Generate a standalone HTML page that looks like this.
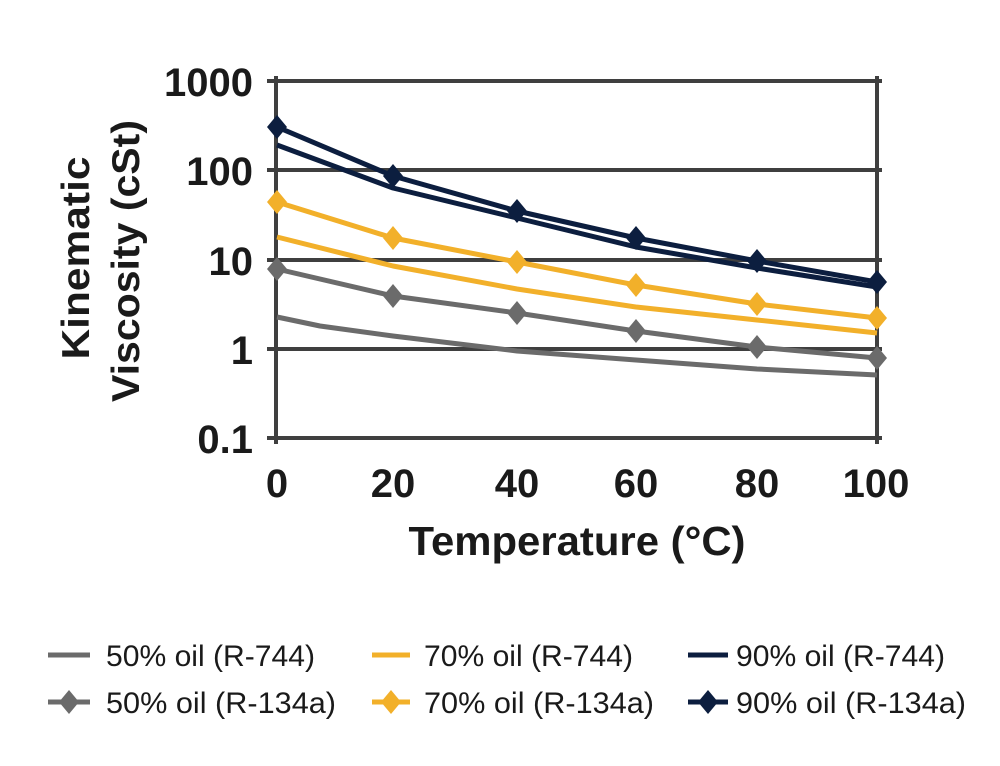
<!DOCTYPE html>
<html><head><meta charset="utf-8"><style>
html,body{margin:0;padding:0;background:#fff;}
svg{display:block;}
</style></head><body>
<svg width="1000" height="766" viewBox="0 0 1000 766" xmlns="http://www.w3.org/2000/svg" font-family="Liberation Sans, Arial, sans-serif">
<defs>
<path id="dm" d="M0,-12 L10,0 L0,12 L-10,0 Z"/>
</defs>
<g stroke="#3f3f3f" stroke-width="4">
<line x1="267" y1="81" x2="882" y2="81"/>
<line x1="267" y1="170" x2="882" y2="170"/>
<line x1="267" y1="260" x2="882" y2="260"/>
<line x1="267" y1="349" x2="882" y2="349"/>
<line x1="267" y1="438" x2="882" y2="438"/>
<line x1="276" y1="76" x2="276" y2="444"/>
<line x1="877" y1="76" x2="877" y2="444"/>
</g>
<g fill="none" stroke-width="5" stroke-linejoin="round">
<polyline stroke="#6b6b6b" points="277,317 320,326 393,336 517,351 636,360 757,369 877,375"/>
<polyline stroke="#6b6b6b" points="277,269 393,296 517,313 636,331 757,347 877,358"/>
<polyline stroke="#f2b02a" points="277,237 393,266 517,289 636,307 757,320 877,333"/>
<polyline stroke="#f2b02a" points="277,202 393,238 517,262 636,285 757,304 877,318"/>
<polyline stroke="#0c1e3f" points="277,145 393,188 517,218 636,247 757,268 877,287"/>
<polyline stroke="#0c1e3f" points="277,127 393,176 517,211 636,238 757,261 877,282"/>
</g>
<g fill="#6b6b6b">
<use href="#dm" x="277" y="269"/><use href="#dm" x="393" y="296"/><use href="#dm" x="517" y="313"/><use href="#dm" x="636" y="331"/><use href="#dm" x="757" y="347"/><use href="#dm" x="877" y="358"/>
</g>
<g fill="#f2b02a">
<use href="#dm" x="277" y="202"/><use href="#dm" x="393" y="238"/><use href="#dm" x="517" y="262"/><use href="#dm" x="636" y="285"/><use href="#dm" x="757" y="304"/><use href="#dm" x="877" y="318"/>
</g>
<g fill="#0c1e3f">
<use href="#dm" x="277" y="127"/><use href="#dm" x="393" y="176"/><use href="#dm" x="517" y="211"/><use href="#dm" x="636" y="238"/><use href="#dm" x="757" y="261"/><use href="#dm" x="877" y="282"/>
</g>
<g font-size="40" font-weight="bold" fill="#1a1a1a" text-anchor="end">
<text x="253" y="96">1000</text>
<text x="253" y="185">100</text>
<text x="253" y="275">10</text>
<text x="253" y="364">1</text>
<text x="253" y="453">0.1</text>
</g>
<g font-size="40" font-weight="bold" fill="#1a1a1a" text-anchor="middle">
<text x="277" y="497">0</text>
<text x="393" y="497">20</text>
<text x="517" y="497">40</text>
<text x="636" y="497">60</text>
<text x="757" y="497">80</text>
<text x="876" y="497">100</text>
</g>
<text x="577" y="555" font-size="41" font-weight="bold" fill="#1a1a1a" text-anchor="middle" textLength="337" lengthAdjust="spacingAndGlyphs">Temperature (°C)</text>
<g font-size="39" font-weight="bold" fill="#1a1a1a" text-anchor="middle">
<text transform="translate(89,258) rotate(-90)" textLength="203" lengthAdjust="spacingAndGlyphs">Kinematic</text>
<text transform="translate(139,261) rotate(-90)" textLength="282" lengthAdjust="spacingAndGlyphs">Viscosity (cSt)</text>
</g>
<g stroke-width="5">
<line x1="48" y1="655" x2="90" y2="655" stroke="#6b6b6b"/>
<line x1="372" y1="655" x2="410" y2="655" stroke="#f2b02a"/>
<line x1="688" y1="655" x2="728" y2="655" stroke="#0c1e3f"/>
<line x1="48" y1="702" x2="90" y2="702" stroke="#6b6b6b"/>
<line x1="372" y1="702" x2="410" y2="702" stroke="#f2b02a"/>
<line x1="688" y1="702" x2="728" y2="702" stroke="#0c1e3f"/>
</g>
<use href="#dm" x="69" y="702" fill="#6b6b6b"/>
<use href="#dm" x="391" y="702" fill="#f2b02a"/>
<use href="#dm" x="708" y="702" fill="#0c1e3f"/>
<g font-size="30" fill="#1a1a1a">
<text x="106" y="666" textLength="209" lengthAdjust="spacingAndGlyphs">50% oil (R-744)</text>
<text x="424" y="666" textLength="209" lengthAdjust="spacingAndGlyphs">70% oil (R-744)</text>
<text x="736" y="666" textLength="209" lengthAdjust="spacingAndGlyphs">90% oil (R-744)</text>
<text x="106" y="713" textLength="230" lengthAdjust="spacingAndGlyphs">50% oil (R-134a)</text>
<text x="424" y="713" textLength="230" lengthAdjust="spacingAndGlyphs">70% oil (R-134a)</text>
<text x="736" y="713" textLength="230" lengthAdjust="spacingAndGlyphs">90% oil (R-134a)</text>
</g>
</svg>
</body></html>
